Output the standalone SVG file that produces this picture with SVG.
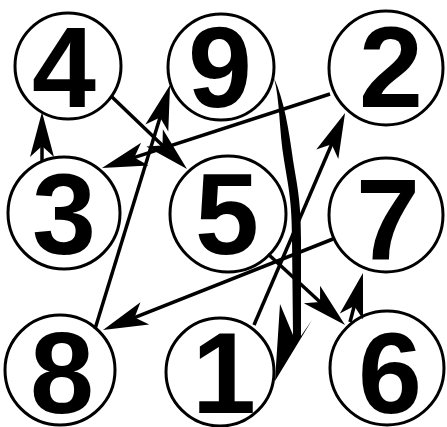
<svg xmlns="http://www.w3.org/2000/svg" width="447" height="427" viewBox="0 0 447 427">
<style>
.node circle{fill:#fff;stroke:#000;stroke-width:3}
.node text{font-family:"Liberation Sans",Arial,sans-serif;font-size:115px;font-weight:bold;fill:#000;text-anchor:middle}
.edge{fill:none;stroke:#000;stroke-width:3.5;marker-end:url(#ah)}
</style>
<defs>
<marker id="ah" markerUnits="userSpaceOnUse" viewBox="-36 -13 47 26" markerWidth="47" markerHeight="26" refX="0" refY="0" orient="auto">
<path d="M10,0 L-35,-12 L-24,0 L-35,12 Z" fill="#000"/>
</marker>
</defs>
<rect width="447" height="427" fill="#fff"/>
<g id="n4" class="node"><circle cx="68" cy="66" r="53"/><text x="64" y="107">4</text></g>
<g id="n9" class="node"><circle cx="221" cy="67" r="53"/><text x="220" y="107">9</text></g>
<g id="n2" class="node"><circle cx="386" cy="68" r="57"/><text x="391" y="107">2</text></g>
<g id="n3" class="node"><circle cx="64" cy="213" r="56"/><text x="64" y="254">3</text></g>
<g id="n5" class="node"><circle cx="228" cy="214" r="58"/><text x="227" y="254">5</text></g>
<g id="n7" class="node"><circle cx="386" cy="215" r="57"/><text x="388" y="259">7</text></g>
<g id="n8" class="node"><circle cx="60" cy="370" r="55"/><text x="62" y="413">8</text></g>
<g id="n1" class="node"><circle cx="220" cy="372" r="54"/><text x="224" y="413">1</text></g>
<g id="n6" class="node"><circle cx="387" cy="368" r="57"/><text x="390" y="413">6</text></g>
<g id="connectors">
<path class="edge" d="M254,325 L341.1,122.2"/>
<path class="edge" d="M330,94 L111.5,164.9"/>
<path class="edge" d="M42,161 L42,122"/>
<path class="edge" d="M112,97 L179.8,162.1"/>
<path class="edge" d="M268,254 L337.7,318.2"/>
<path class="edge" d="M350,322 L360.4,282.7"/>
<path class="edge" d="M333,239 L112.3,326.3"/>
<path class="edge" d="M95,329 L167.1,94.6"/>
<path d="M274,78 C280,100 279,130 284,160 C288,185 292,200 292,240 L293,335 L280,304 L275,381 L312,320 L301,336 L301,240 C301,200 297,185 293,160 C289,130 284,100 274,78 Z" fill="#000"/>
</g>
</svg>
